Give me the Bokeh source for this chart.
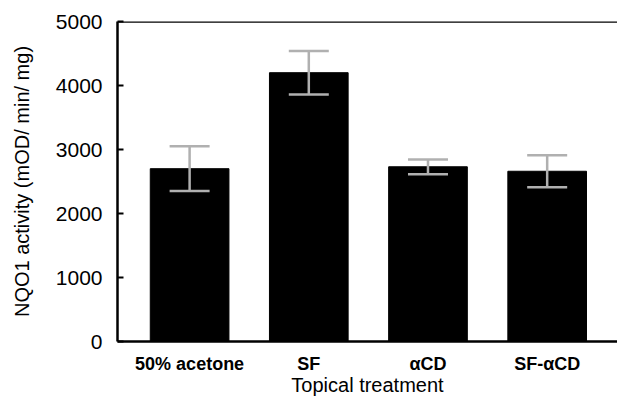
from bokeh.plotting import figure
from bokeh.models import ColumnDataSource, Whisker, TeeHead, FixedTicker, Span, Range1d
from bokeh.embed import file_html
from bokeh.resources import INLINE

categories = ["50% acetone", "SF", "\u03b1CD", "SF-\u03b1CD"]
means = [2700, 4200, 2730, 2660]
errors = [350, 340, 115, 250]
y_ticks = [0, 1000, 2000, 3000, 4000, 5000]

xs = list(range(len(categories)))
src = ColumnDataSource(dict(
    x=xs, top=means,
    upper=[m + e for m, e in zip(means, errors)],
    lower=[m - e for m, e in zip(means, errors)],
))

p = figure(width=617, height=398, output_backend="svg", toolbar_location=None,
           x_range=Range1d(-0.605, 3.59), y_range=Range1d(0, 5000),
           min_border_left=117, min_border_right=0, min_border_top=21, min_border_bottom=57)
p.outline_line_color = None
p.grid.grid_line_color = None
p.background_fill_color = "white"

p.vbar(x="x", top="top", width=0.66, source=src, fill_color="black", line_color="black")

head_u = TeeHead(size=40, line_color="#b0b0b0", line_width=2.5)
head_l = TeeHead(size=40, line_color="#b0b0b0", line_width=2.5)
w = Whisker(base="x", upper="upper", lower="lower", source=src, level="overlay",
            line_color="#b0b0b0", line_width=2.5, upper_head=head_u, lower_head=head_l)
p.add_layout(w)

p.add_layout(Span(location=5000, dimension="width", line_color="black", line_width=2.5))

# y axis
ya = p.yaxis[0]
ya.ticker = FixedTicker(ticks=y_ticks)
ya.axis_line_width = 2.5
ya.major_tick_in = 6
ya.major_tick_out = 0
ya.major_tick_line_width = 2
ya.minor_tick_line_color = None
ya.major_label_text_font = "Liberation Sans"
ya.major_label_text_font_size = "21px"
ya.major_label_text_color = "black"
ya.major_label_standoff = 15
ya.axis_label = "NQO1 activity (mOD/ min/ mg)"
ya.axis_label_text_font = "Liberation Sans"
ya.axis_label_text_font_size = "20px"
ya.axis_label_text_font_style = "normal"
ya.axis_label_text_color = "black"
ya.axis_label_standoff = 20

# x axis
xa = p.xaxis[0]
xa.ticker = FixedTicker(ticks=xs)
xa.major_label_overrides = {i: c for i, c in zip(xs, categories)}
xa.axis_line_width = 2.5
xa.major_tick_line_color = None
xa.minor_tick_line_color = None
xa.major_label_text_font = "Liberation Sans"
xa.major_label_text_font_size = "18px"
xa.major_label_text_font_style = "bold"
xa.major_label_text_color = "black"
xa.major_label_standoff = 6
xa.axis_label = "Topical treatment"
xa.axis_label_text_font = "Liberation Sans"
xa.axis_label_text_font_size = "20px"
xa.axis_label_text_font_style = "normal"
xa.axis_label_text_color = "black"
xa.axis_label_standoff = -3

open("out.html", "w").write(file_html(p, INLINE))
